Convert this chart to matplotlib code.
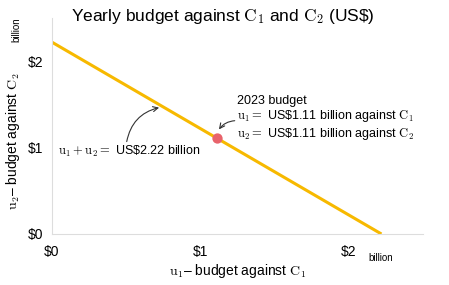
import matplotlib.pyplot as plt
import numpy as np

plt.rcParams['font.family'] = ['Liberation Sans', 'DejaVu Sans']
plt.rcParams['mathtext.fontset'] = 'cm'

# budget line endpoints and the 2023 point (US$ billion)
total_budget = 2.22
line_u1 = [0, total_budget]
line_u2 = [total_budget, 0]
point_u1 = 1.11
point_u2 = 1.11
tick_values = [0, 1, 2]
tick_labels = ['$0', '$1', '$2']

fig = plt.figure(figsize=(4.49, 2.85), dpi=100)
ax = fig.add_axes([52 / 449, 1 - 234 / 285, 371 / 449, 216 / 285])

ax.plot(line_u1, line_u2, color='#f7b900', lw=2.2, zorder=2, solid_capstyle='butt')
ax.scatter([point_u1], [point_u2], s=55, color='#e8636b', zorder=3, lw=0)

ax.set_xlim(0, 2.5)
ax.set_ylim(0, 2.5)
ax.set_xticks(tick_values)
ax.set_xticklabels([t.replace('$', r'\$') for t in tick_labels], fontsize=10)
ax.set_yticks(tick_values)
ax.set_yticklabels([t.replace('$', r'\$') for t in tick_labels], fontsize=10)
ax.tick_params(length=0, pad=6)
ax.tick_params(axis='x', pad=8)
for s in ['top', 'right']:
    ax.spines[s].set_visible(False)
for s in ['left', 'bottom']:
    ax.spines[s].set_color('#dddddd')

ax.set_xlabel(r'$\mathrm{u}_1$' + '\u2013 budget against ' + r'$\mathrm{C}_1$', fontsize=10, labelpad=2)
ax.set_ylabel(r'$\mathrm{u}_2$' + '\u2013 budget against ' + r'$\mathrm{C}_2$', fontsize=10)
ax.yaxis.set_label_coords(-0.082, 0.43)
fig.text(368 / 449, 1 - 258 / 285, 'billion', fontsize=7, ha='left', va='center')
fig.text(16 / 449, 1 - 30 / 285, 'billion', fontsize=7, rotation=90, ha='center', va='center')

fig.text(223 / 449, 1 - 16 / 285,
         'Yearly budget against ' + r'$\mathrm{C}_1$' + ' and ' + r'$\mathrm{C}_2$' + ' (US\\$)',
         fontsize=12.5, ha='center', va='center')

ax.annotate(r'$\mathrm{u}_1 + \mathrm{u}_2 = $' + ' US\\$2.22 billion',
            xy=(0.74, 1.47), xytext=(0.04, 0.95), fontsize=9,
            ha='left', va='center',
            arrowprops=dict(arrowstyle='->', color='#333333', lw=0.8,
                            connectionstyle='arc3,rad=-0.35',
                            shrinkA=0, shrinkB=2,
                            relpos=(0.48, 1.0)))
ax.annotate('2023 budget\n' + r'$\mathrm{u}_1 = $' + ' US\\$1.11 billion against ' + r'$\mathrm{C}_1$' + '\n'
            + r'$\mathrm{u}_2 = $' + ' US\\$1.11 billion against ' + r'$\mathrm{C}_2$',
            xy=(point_u1, point_u2 + 0.06), xytext=(1.25, 1.34), fontsize=9,
            ha='left', va='center', linespacing=1.15,
            arrowprops=dict(arrowstyle='->', color='#333333', lw=0.8,
                            connectionstyle='arc3,rad=0.3',
                            shrinkA=0, shrinkB=3,
                            relpos=(0.0, 0.45)))

fig.savefig('out.png', dpi=100)
